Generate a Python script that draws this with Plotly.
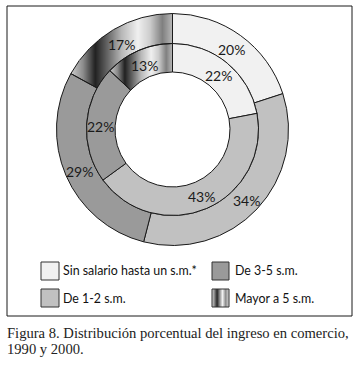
import numpy as np
import plotly.graph_objects as go

# ---------------- data ----------------
labels = ["Sin salario hasta un s.m.*", "De 1-2 s.m.", "De 3-5 s.m.", "Mayor a 5 s.m."]
values_2000 = [20, 34, 29, 17]   # outer ring
values_1990 = [22, 43, 22, 13]   # inner ring
caption_lines = ["Figura 8. Distribución porcentual del ingreso en comercio,", "1990 y 2000."]

# ---------------- style / geometry ----------------
W, H = 364, 366
CX, CY = 172.5, 129.5
R_OUT, R_MID, R_IN = 116.0, 86.0, 57.5
slice_colors = ["#f1f1f1", "#c1c1c1", "#9a9a9a", "rgba(0,0,0,0)"]
LINE = "#1a1a1a"
GRAD_T = [0.0, 0.12, 0.24, 0.34, 0.50, 0.66, 0.78, 0.90, 1.0]
GRAD_V = [0.80, 0.55, 0.13, 0.35, 0.72, 0.94, 0.80, 0.50, 0.72]
SW_T = [0.0, 0.12, 0.3, 0.45, 0.62, 0.8, 1.0]
SW_V = [0.85, 0.6, 0.15, 0.55, 0.95, 0.55, 0.85]
PCT_FONT = dict(family="Lato", size=14, color="#1a1a1a")


def dom(r):
    return dict(x=[(CX - r) / W, (CX + r) / W], y=[1 - (CY + r) / H, 1 - (CY - r) / H])


fig = go.Figure()

# metallic texture for the "Mayor a 5 s.m." slices (shows through transparent slices)
xs = np.arange(50, 180) + 0.5
ys = np.arange(8, 100) + 0.5
X, Y = np.meshgrid(xs, ys)
dx, dy = X - CX, Y - CY
rr = np.hypot(dx, dy)
ang = np.degrees(np.arctan2(dx, -dy)) % 360
Z = np.full(X.shape, np.nan)
rings = [(values_2000, R_MID, R_OUT), (values_1990, R_IN, R_MID)]
for vals, r0, r1 in rings:
    a0 = 360.0 * (1 - vals[-1] / sum(vals))
    xmin = CX + r1 * np.sin(np.radians(a0)) if a0 >= 270 else CX - r1
    m = (rr >= r0 - 0.3) & (rr <= r1 - 0.3) & (ang >= a0) & (dx < 0.5)
    t = np.clip((X - xmin) / (CX - xmin), 0, 1)
    Z[m] = np.interp(t[m], GRAD_T, GRAD_V)

fig.add_trace(go.Heatmap(x=xs, y=ys, z=Z, colorscale=[[0, "#000000"], [1, "#ffffff"]],
                         zmin=0, zmax=1, showscale=False, hoverinfo="skip", zsmooth=False))

# legend swatch texture
sx = np.arange(212, 229) + 0.5
sy = np.arange(289, 307) + 0.5
SX, SY = np.meshgrid(sx, sy)
SZ = np.interp((SX - 212) / 17.0, SW_T, SW_V)
fig.add_trace(go.Heatmap(x=sx, y=sy, z=SZ, colorscale=[[0, "#000000"], [1, "#ffffff"]],
                         zmin=0, zmax=1, showscale=False, hoverinfo="skip", zsmooth=False))

common = dict(labels=labels, sort=False, direction="clockwise", rotation=0,
              marker=dict(colors=slice_colors, line=dict(color=LINE, width=1)),
              textinfo="none", showlegend=False, hoverinfo="skip")
fig.add_trace(go.Pie(values=values_2000, domain=dom(R_OUT), hole=R_MID / R_OUT, name="2000", **common))
fig.add_trace(go.Pie(values=values_1990, domain=dom(R_MID), hole=R_IN / R_MID, name="1990", **common))

ann = []
# percentage labels at the middle of each slice (angle from cumulative data)
for vals, r0, r1 in rings:
    tot = float(sum(vals))
    cum = np.cumsum([0] + vals[:-1])
    rm = (r0 + r1) / 2.0
    for v, c in zip(vals, cum):
        a = np.radians(360.0 * (c + v / 2.0) / tot)
        ann.append(dict(x=CX + rm * np.sin(a), y=CY - rm * np.cos(a) + 1.5, xref="x", yref="y",
                        text=f"{v}%", showarrow=False, xanchor="center", yanchor="middle",
                        font=PCT_FONT))

shapes = [dict(type="rect", x0=7, y0=6, x1=352, y1=316, line=dict(color=LINE, width=1))]
boxes = [(41, 262, 59, 280), (41, 289, 59, 307), (212, 262, 229, 280), (212, 289, 229, 307)]
for i, (x0, y0, x1, y1) in enumerate(boxes):
    fill = slice_colors[i] if i < 3 else "rgba(0,0,0,0)"
    shapes.append(dict(type="rect", x0=x0, y0=y0, x1=x1, y1=y1, fillcolor=fill,
                       line=dict(color="#333333", width=1)))
for s in shapes:
    s.update(xref="x", yref="y")

text_pos = [(61, 270), (61, 298), (233, 270), (233, 298)]
for lab, (x, y) in zip(labels, text_pos):
    ann.append(dict(x=x, y=y, xref="x", yref="y", text=lab, showarrow=False, xanchor="left",
                    yanchor="middle", font=dict(family="Lato", size=12.4, color="#111111")))
for i, line in enumerate(caption_lines):
    ann.append(dict(x=5, y=333 + 15.5 * i, xref="x", yref="y", text=line, showarrow=False,
                    xanchor="left", yanchor="middle",
                    font=dict(family="Liberation Serif", size=14.6, color="#222222")))

fig.update_layout(width=W, height=H, margin=dict(l=0, r=0, t=0, b=0),
                  paper_bgcolor="white", plot_bgcolor="white",
                  xaxis=dict(range=[0, W], visible=False, fixedrange=True),
                  yaxis=dict(range=[H, 0], visible=False, fixedrange=True),
                  shapes=shapes, annotations=ann)
fig.write_html("out.html", config={"displayModeBar": False, "staticPlot": True},
               post_script="document.body.style.margin='0';")
